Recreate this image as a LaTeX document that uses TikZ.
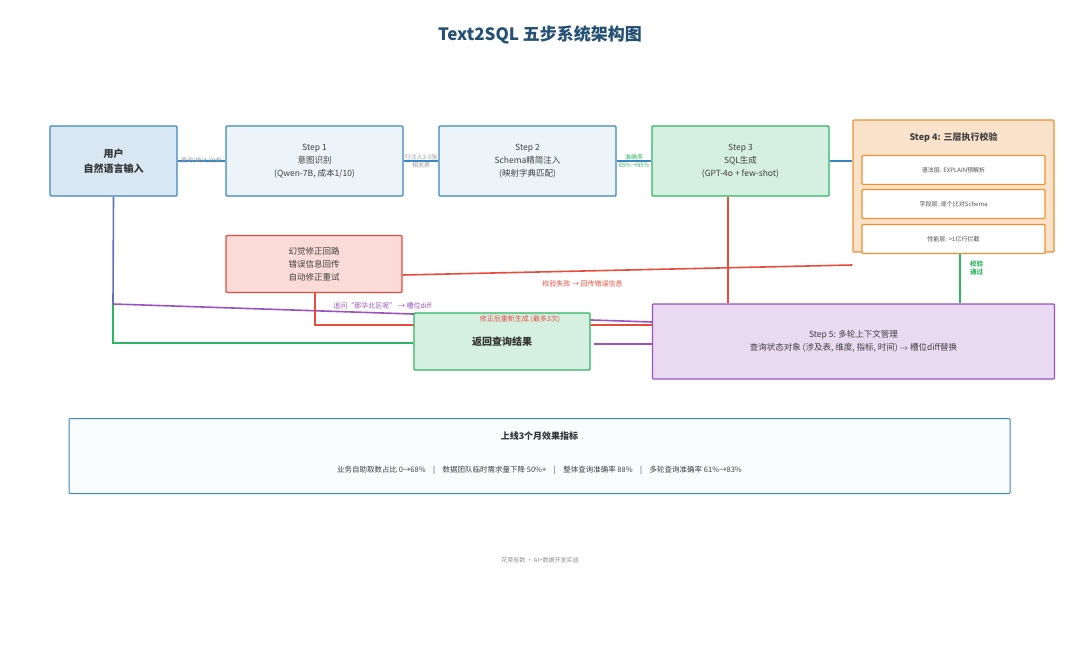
\documentclass[tikz,border=0pt]{standalone}
\usepackage{fontspec}
\setmainfont{Noto Sans CJK SC}
\usetikzlibrary{backgrounds}
\begin{document}
\begin{tikzpicture}[x=1pt,y=-1pt,
box/.style={draw,line width=1.3pt,rounded corners=1pt,align=center,inner sep=0pt},
t/.style={font=\fontsize{8.5}{13}\selectfont,text=black!75},
s/.style={font=\fontsize{6}{7.5}\selectfont},
ln/.style={line width=1.6pt}]
\useasboundingbox (0,0) rectangle (1080,672);
\definecolor{bl}{HTML}{3A86C0}\definecolor{gr}{HTML}{2FB463}\definecolor{rd}{HTML}{E84C3D}
\definecolor{pu}{HTML}{9B51C0}\definecolor{or}{HTML}{F09030}
\node[font=\bfseries\fontsize{17}{20}\selectfont,text=bl!60!black] (title) at (540,35) {Text2SQL 五步系统架构图};
\node[box,draw=bl,fill=bl!20,minimum width=127,minimum height=70,font=\bfseries\fontsize{10}{15}\selectfont,text=black!80] (user) at (113.5,161) {用户\\自然语言输入};
\node[box,draw=bl,fill=bl!9,minimum width=177,minimum height=70,t] (s1) at (314.5,161) {Step 1\\意图识别\\(Qwen-7B, 成本1/10)};
\node[box,draw=bl,fill=bl!9,minimum width=177,minimum height=70,t] (s2) at (527.5,161) {Step 2\\Schema精简注入\\(映射字典匹配)};
\node[box,draw=gr,fill=gr!20,minimum width=177,minimum height=70,t] (s3) at (740.5,161) {Step 3\\SQL生成\\(GPT-4o + few-shot)};
\node[box,draw=or,fill=or!25,minimum width=201,minimum height=132] (s4) at (953.5,186) {};
\node[font=\bfseries\fontsize{9}{11}\selectfont,text=black!75] (s4t) at (953.5,138) {Step 4: 三层执行校验};
\foreach \n/\y/\txt in {a/170/语法层: EXPLAIN预解析, b/204/字段层: 逐个比对Schema, c/239/性能层: >1亿行拦截}
  \node[box,draw=or,fill=white,minimum width=183,minimum height=29,s,text=black!70] (l\n) at (953.5,\y) {\txt};
\node[box,draw=rd,fill=rd!20,minimum width=176,minimum height=57,t] (fix) at (314,264) {幻觉修正回路\\错误信息回传\\自动修正重试};
\node[box,draw=gr,fill=gr!20,minimum width=176,minimum height=57,font=\bfseries\fontsize{10}{12}\selectfont,text=black!80] (ret) at (502,341.5) {返回查询结果};
\node[box,draw=pu,fill=pu!22,minimum width=402,minimum height=75,t] (s5) at (853.5,341.5) {Step 5: 多轮上下文管理\\查询状态对象 (涉及表, 维度, 指标, 时间) $\rightarrow$ 槽位diff替换};
\node[box,draw=bl,fill=bl!3,line width=1pt,minimum width=941,minimum height=75] (m) at (539.5,456) {};
\node[font=\bfseries\fontsize{9}{11}\selectfont,text=black!80] (mt) at (539.5,436) {上线3个月效果指标};
\node[font=\fontsize{7.5}{9}\selectfont,text=black!75] (mv) at (539.5,470) {业务自助取数占比 0→68\%\quad|\quad 数据团队临时需求量下降 50\%+\quad|\quad 整体查询准确率 88\%\quad|\quad 多轮查询准确率 61\%→83\%};
\node[s,text=black!45] (ft) at (540,560) {花荣有数 · AI+数据开发实战};
\node[font=\fontsize{7}{8}\selectfont,text=rd] (rl) at (520,319) {修正后重新生成 (最多3次)};
\begin{scope}[on background layer]
\draw[ln,bl] (user.east) -- (s1.west) node[midway,s,text=black!40]{查询/统计/分析};
\draw[ln,bl] (s1.east) -- (s2.west) node[midway,s,text=black!40,align=center]{只注入3-5张\\相关表};
\draw[ln,bl] (s2.east) -- (s3.west) node[midway,s,text=gr,align=center]{准确率\\65\%→85\%};
\draw[ln,bl] (s3.east) -- (s4.west|-s3.east);
\coordinate (u1) at (113,304); \coordinate (u2) at (113,343);
\draw[ln,bl!60!pu] (user.south) -- (u1);
\draw[ln,gr] (u1) -- (u2) -- (ret.west|-u2);
\draw[ln,pu] (u1) -- (s5.west|-0,322) node[pos=0.5,above,font=\fontsize{7}{8}\selectfont]{追问“那华北区呢” → 槽位diff};
\coordinate (f1) at (315,325);
\draw[ln,rd] (fix.south-|f1) -- (f1) -- (s5.west|-f1);
\draw[ln,rd] (fix.east|-0,275) -- (s4.south west|-0,265) node[pos=0.4,below=5pt,font=\fontsize{7}{8}\selectfont]{校验失败 → 回传错误信息};
\draw[ln,rd] (s3.south-|728,0) -- (s5.north-|728,0);
\draw[ln,gr] (s4.south-|960,0) -- (s5.north-|960,0) node[pos=0.3,right=6pt,align=center,font=\bfseries\fontsize{6.5}{7.5}\selectfont]{校验\\通过};
\draw[line width=2pt,pu] (594,344) -- (s5.west|-0,344);
\end{scope}
\end{tikzpicture}
\end{document}
